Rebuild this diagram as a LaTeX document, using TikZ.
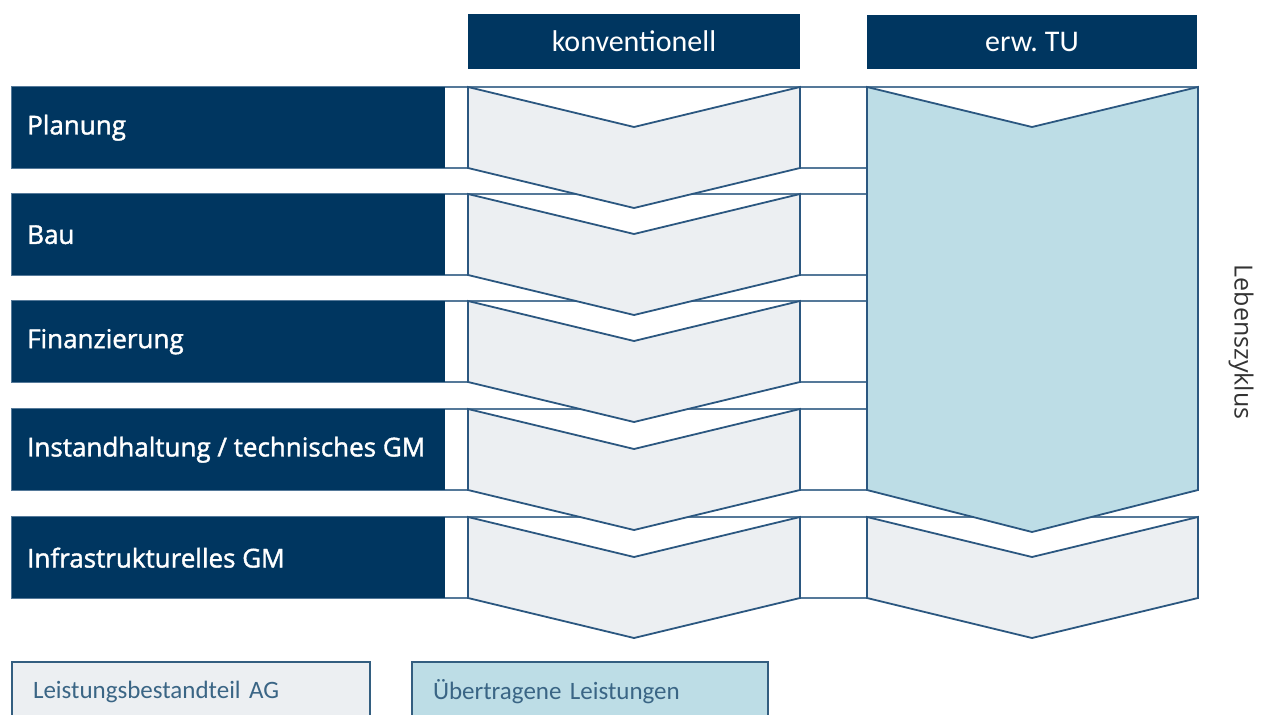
\documentclass[tikz,border=0pt]{standalone}
\usepackage{fontspec}
\setmainfont{Carlito}[WordSpace=0.7]
\newfontfamily\labelfont[FakeBold=1.5]{Open Sans}
\newfontfamily\sidefont{Open Sans}
\usetikzlibrary{positioning}
\definecolor{navy}{HTML}{003660}
\definecolor{chevgray}{HTML}{ECEFF2}
\definecolor{chevblue}{HTML}{BDDDE6}
\definecolor{edgeblue}{HTML}{2B5780}
\definecolor{legendtext}{HTML}{3A6585}

\begin{document}
\begin{tikzpicture}[x=1pt, y=-1pt,
    band/.style = {draw=edgeblue!80, line width=1.6pt, fill=white},
    rowbar/.style = {fill=navy, minimum width=433pt, minimum height=81pt, inner sep=0pt, anchor=north west},
    rowlabel/.style = {text=white, inner sep=0pt, anchor=west, font=\labelfont\fontsize{26}{30}\selectfont},
    chev/.style = {draw=edgeblue, line width=1.8pt, line join=miter},
    header/.style = {fill=navy, text=white, inner sep=0pt, font=\fontsize{30}{34}\selectfont},
    legend/.style = {draw=navy!80, line width=1.6pt, minimum width=358pt, minimum height=60pt, inner xsep=21pt,
      text width=316pt, align=left, text=legendtext, font=\fontsize{25}{30}\selectfont}]
  \useasboundingbox (0,0) rectangle (1270,715);
  % rows
  \foreach \name/\ytop/\label in {plan/87/Planung, bau/194/Bau, fin/301/Finanzierung,
      inst/409/{Instandhaltung / technisches GM}, infra/517/{Infrastrukturelles GM}} {
    \draw[band] (12,\ytop) rectangle (1198,\ytop+81);
    \node[rowbar] (\name) at (12,\ytop) {};
    \node[rowlabel] (\name-text) at ([xshift=15pt]\name.west) {\label};
  }
  % konventionell
  \foreach \ytop in {87,194,301,409,517}
    \draw[chev, fill=chevgray] (468,\ytop) -- (634,\ytop+40) -- (800,\ytop) -- (800,\ytop+81)
      -- (634,\ytop+121) -- (468,\ytop+81) -- cycle;
  % erw. TU
  \draw[chev, fill=chevblue] (867,87) -- (1032,127) -- (1198,87) -- (1198,490)
    -- (1032,532) -- (867,490) -- cycle;
  \draw[chev, fill=chevgray] (867,517) -- (1032,557) -- (1198,517) -- (1198,598)
    -- (1032,638) -- (867,598) -- cycle;
  % headers
  \node[header, minimum width=332pt, minimum height=55pt] (konv) at (634,41) {konventionell};
  \node[header, minimum width=330pt, minimum height=54pt] (tu) at (1032,42) {erw. TU};
  \node[rotate=-90, text=black!80, font=\sidefont\fontsize{25}{28}\selectfont] (zyklus) at (1241,342) {Lebenszyklus};
  % legend
  \node[legend, fill=chevgray] (ag) at (191,692) {Leistungsbestandteil AG};
  \node[legend, fill=chevblue, minimum width=356pt, text width=314pt] (uebertr) at (590,692) {Übertragene Leistungen};
\end{tikzpicture}
\end{document}
